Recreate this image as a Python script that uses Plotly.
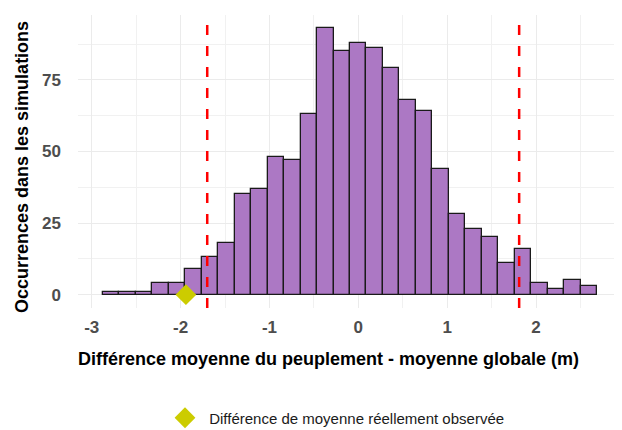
import plotly.graph_objects as go

# Histogram data (30 bins)
bin_start = -2.876
bin_width = 0.1855
counts = [1, 1, 1, 4, 4, 9, 13, 18, 35, 37, 48, 47, 63, 93, 85, 88, 86, 79,
          68, 64, 44, 28, 23, 20, 11, 16, 4, 2, 5, 3]

# Quantile lines and observed value
quantile_lines = [-1.70, 1.81]
observed_x = [-1.94]
observed_y = [0]
legend_label = "Différence de moyenne réellement observée"

x_title = "Différence moyenne du peuplement - moyenne globale (m)"
y_title = "Occurrences dans les simulations"
x_ticks = [-3, -2, -1, 0, 1, 2]
x_ticklabels = ["-3", "-2", "-1", "0", "1", "2"]
y_ticks = [0, 25, 50, 75]

centers = [bin_start + bin_width * (i + 0.5) for i in range(len(counts))]

FONT = "Liberation Sans, Arial, sans-serif"
OFF = 8  # page body margin offset

fig = go.Figure()
fig.add_trace(go.Bar(
    x=centers, y=counts, width=bin_width,
    marker=dict(color="#AC78C4", line=dict(color="#1a1a1a", width=1.3)),
    showlegend=False, hoverinfo="skip",
))

for q in quantile_lines:
    fig.add_shape(type="line", x0=q, x1=q, xref="x", y0=0, y1=0.97, yref="paper",
                  line=dict(color="#FF0000", width=2.5, dash="10px,11px"))

fig.add_trace(go.Scatter(
    x=observed_x, y=observed_y, mode="markers", name="\u00a0" + legend_label,
    marker=dict(symbol="diamond", size=16, color="#CCCC00"),
))

x_lo = bin_start
x_hi = bin_start + bin_width * len(counts)
pad = (x_hi - x_lo) * 0.05
ymax = max(counts)

# plot area in window pixels: x 78..621, y 15..308
L, R, T, B = 78 - OFF, 622 - OFF, 15 - OFF, 308 - OFF
FW, FH = 622 - OFF, 430 - OFF
W, H = R - L, B - T
def px(xp):
    return (xp - OFF - L) / W
def py(yp):
    return (B - (yp - OFF)) / H

fig.add_annotation(text="<b>" + y_title + "</b>", xref="paper", yref="paper",
                   x=px(22), y=py(167), textangle=-90, showarrow=False,
                   xanchor="center", yanchor="middle",
                   font=dict(size=18, color="black", family=FONT))
fig.add_annotation(text="<b>" + x_title + "</b>", xref="paper", yref="paper",
                   x=px(328), y=py(359), showarrow=False,
                   xanchor="center", yanchor="middle",
                   font=dict(size=18, color="black", family=FONT))

fig.update_layout(
    width=FW, height=FH,
    margin=dict(l=L, r=FW - R, t=T, b=FH - B, autoexpand=False),
    plot_bgcolor="white", paper_bgcolor="white",
    font=dict(family=FONT),
    bargap=0,
    showlegend=True,
    legend=dict(orientation="h", x=px(165), xanchor="left", y=py(418), yanchor="middle",
                font=dict(size=15, color="#1a1a1a")),
    xaxis=dict(
        range=[x_lo - pad, x_hi + pad],
        tickmode="array", tickvals=x_ticks, ticktext=x_ticklabels,
        showgrid=True, gridcolor="#EBEBEB", gridwidth=1.1,
        minor=dict(dtick=0.5, tick0=0, showgrid=True, gridcolor="#F1F1F1", gridwidth=0.8),
        zeroline=False, showline=False, ticks="", automargin=False,
        ticklabelstandoff=7,
        tickfont=dict(size=17, color="#4D4D4D", family=FONT, weight="bold"),
    ),
    yaxis=dict(
        range=[-ymax * 0.05, ymax * 1.05],
        tickmode="array", tickvals=y_ticks,
        showgrid=True, gridcolor="#EBEBEB", gridwidth=1.1,
        minor=dict(dtick=12.5, tick0=0, showgrid=True, gridcolor="#F1F1F1", gridwidth=0.8),
        zeroline=False, showline=False, ticks="", automargin=False,
        ticklabelstandoff=16,
        tickfont=dict(size=17, color="#4D4D4D", family=FONT, weight="bold"),
    ),
)

fig.write_html("out.html")
